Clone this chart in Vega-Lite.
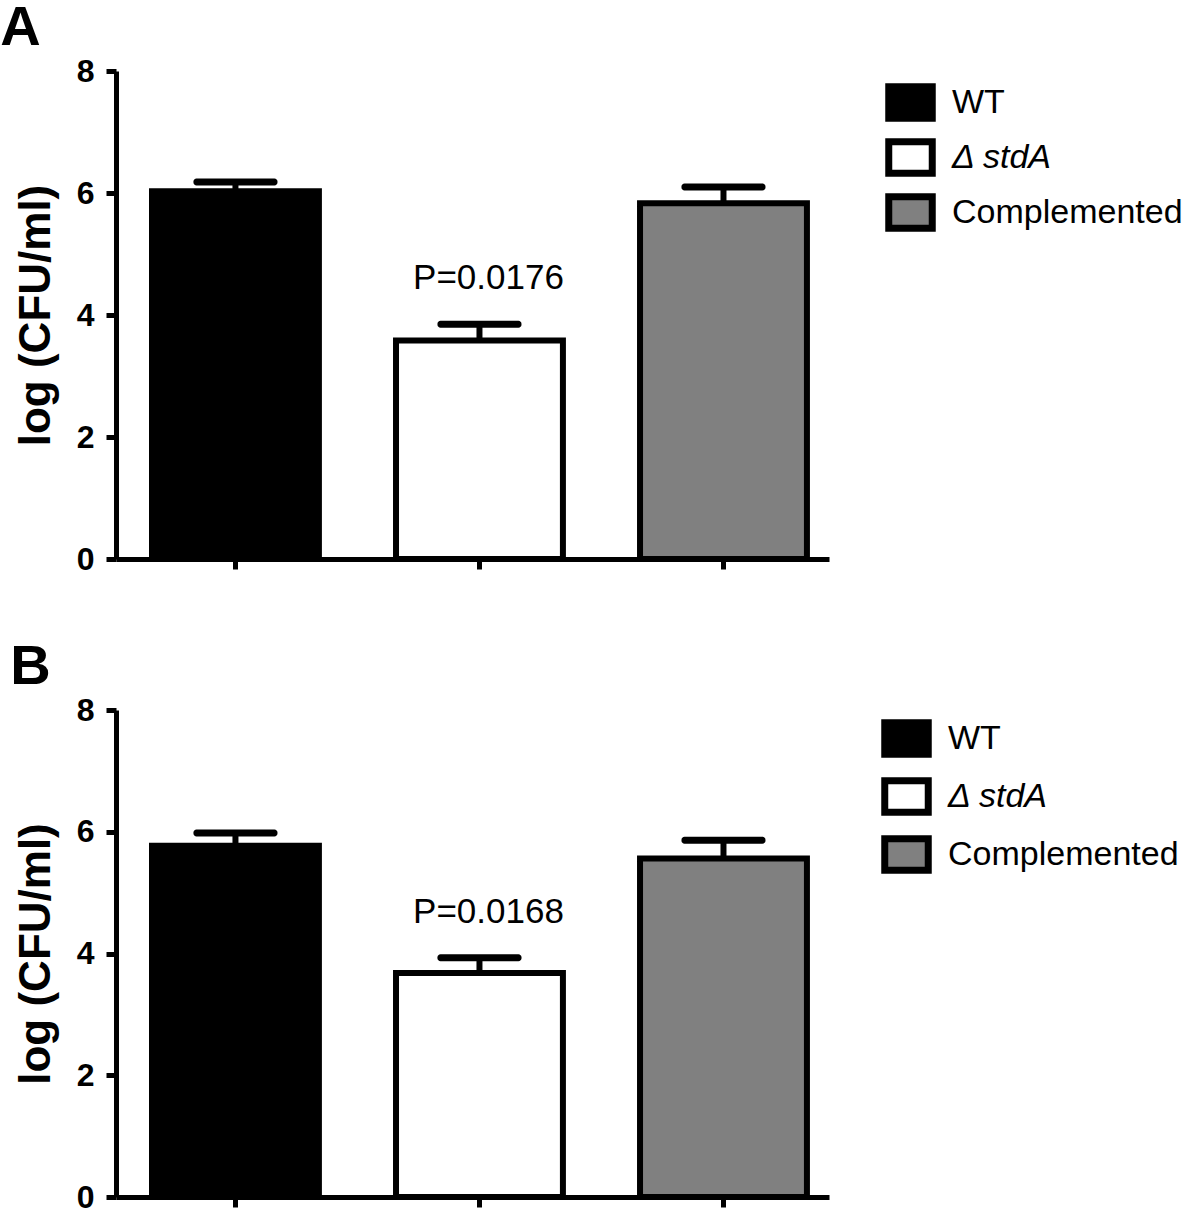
{
  "$schema": "https://vega.github.io/schema/vega-lite/v6.json",
  "background": "white",
  "padding": {"top": 0, "left": 0, "right": 0, "bottom": 0},
  "spacing": 64,
  "config": {
    "font": "Liberation Sans",
    "view": {"stroke": null},
    "axis": {"domainColor": "black", "domainWidth": 5, "tickColor": "black", "tickWidth": 5, "tickSize": 10, "grid": false, "labelFont": "Liberation Sans", "labelFontWeight": "bold", "labelFontSize": 32, "labelColor": "black", "titleFont": "Liberation Sans", "titleFontWeight": "bold", "titleFontSize": 44, "titleColor": "black"},
    "legend": {"orient": "none", "padding": 0, "symbolType": "M-1.45,-1.05H1.45V1.05H-1.45Z", "symbolSize": 900, "symbolStrokeWidth": 7, "symbolStrokeColor": "black", "labelFontSize": 34, "labelFont": "Liberation Sans", "labelColor": "black", "labelOffset": 23, "labelLimit": 400}
  },
  "resolve": {"scale": {"fill": "independent", "x": "independent", "y": "independent"}, "legend": {"fill": "independent"}},
  "datasets": {
    "A": [
      {"group": "WT", "mean": 6.03, "upper": 6.18, "p": null},
      {"group": "Δ stdA", "mean": 3.58, "upper": 3.85, "p": "P=0.0176"},
      {"group": "Complemented", "mean": 5.83, "upper": 6.10, "p": null}
    ],
    "B": [
      {"group": "WT", "mean": 5.77, "upper": 5.98, "p": null},
      {"group": "Δ stdA", "mean": 3.68, "upper": 3.93, "p": "P=0.0168"},
      {"group": "Complemented", "mean": 5.56, "upper": 5.86, "p": null}
    ]
  },
  "vconcat": [
    {
      "title": {"text": "A", "anchor": "start", "frame": "bounds", "fontSize": 56, "fontWeight": "bold", "font": "Liberation Sans", "color": "black", "offset": -2, "dx": -14},
      "width": 713,
      "height": 488,
      "data": {"name": "A"},
      "encoding": {
        "x": {"field": "group", "type": "nominal", "sort": ["WT", "Δ stdA", "Complemented"], "scale": {"paddingInner": 0.316, "paddingOuter": 0.119, "align": 0.62}, "axis": {"labels": false, "title": null}}
      },
      "layer": [
        {
          "mark": {"type": "bar", "stroke": "black", "strokeWidth": 6},
          "encoding": {
            "y": {"field": "mean", "type": "quantitative", "scale": {"domain": [0, 8], "nice": false}, "axis": {"values": [0, 2, 4, 6, 8], "format": "d", "title": "log (CFU/ml)", "labelPadding": 12, "titlePadding": 18}},
            "fill": {"field": "group", "type": "nominal", "sort": ["WT", "Δ stdA", "Complemented"], "scale": {"domain": ["WT", "Δ stdA", "Complemented"], "range": ["black", "white", "#808080"]}, "legend": {"title": null, "legendX": 776, "legendY": 13, "rowPadding": -6, "labelExpr": "datum.label == 'Δ stdA' ? ' Δ stdA' : datum.label", "encode": {"labels": {"update": {"fontStyle": {"signal": "datum.value == 'Δ stdA' ? 'italic' : 'normal'"}}}}}}
          }
        },
        {
          "mark": {"type": "rule", "stroke": "black", "strokeWidth": 6},
          "encoding": {"y": {"field": "mean", "type": "quantitative"}, "y2": {"field": "upper"}}
        },
        {
          "mark": {"type": "tick", "color": "black", "size": 84, "thickness": 7, "cornerRadius": 3, "opacity": 1},
          "encoding": {"y": {"field": "upper", "type": "quantitative"}}
        },
        {
          "transform": [{"filter": "datum.p != null"}],
          "mark": {"type": "text", "fontSize": 35, "font": "Liberation Sans", "color": "black", "baseline": "middle", "dy": -46, "dx": 9},
          "encoding": {"y": {"field": "upper", "type": "quantitative"}, "text": {"field": "p"}}
        }
      ]
    },
    {
      "title": {"text": "B", "anchor": "start", "frame": "bounds", "fontSize": 56, "fontWeight": "bold", "font": "Liberation Sans", "color": "black", "offset": -2, "dx": -4},
      "width": 713,
      "height": 487,
      "data": {"name": "B"},
      "encoding": {
        "x": {"field": "group", "type": "nominal", "sort": ["WT", "Δ stdA", "Complemented"], "scale": {"paddingInner": 0.316, "paddingOuter": 0.119, "align": 0.62}, "axis": {"labels": false, "title": null}}
      },
      "layer": [
        {
          "mark": {"type": "bar", "stroke": "black", "strokeWidth": 6},
          "encoding": {
            "y": {"field": "mean", "type": "quantitative", "scale": {"domain": [0, 8], "nice": false}, "axis": {"values": [0, 2, 4, 6, 8], "format": "d", "title": "log (CFU/ml)", "labelPadding": 12, "titlePadding": 18}},
            "fill": {"field": "group", "type": "nominal", "sort": ["WT", "Δ stdA", "Complemented"], "scale": {"domain": ["WT", "Δ stdA", "Complemented"], "range": ["black", "white", "#808080"]}, "legend": {"title": null, "legendX": 772, "legendY": 10, "rowPadding": -3, "encode": {"labels": {"update": {"fontStyle": {"signal": "datum.value == 'Δ stdA' ? 'italic' : 'normal'"}}}}}}
          }
        },
        {
          "mark": {"type": "rule", "stroke": "black", "strokeWidth": 6},
          "encoding": {"y": {"field": "mean", "type": "quantitative"}, "y2": {"field": "upper"}}
        },
        {
          "mark": {"type": "tick", "color": "black", "size": 84, "thickness": 7, "cornerRadius": 3, "opacity": 1},
          "encoding": {"y": {"field": "upper", "type": "quantitative"}}
        },
        {
          "transform": [{"filter": "datum.p != null"}],
          "mark": {"type": "text", "fontSize": 35, "font": "Liberation Sans", "color": "black", "baseline": "middle", "dy": -46, "dx": 9},
          "encoding": {"y": {"field": "upper", "type": "quantitative"}, "text": {"field": "p"}}
        }
      ]
    }
  ]
}
